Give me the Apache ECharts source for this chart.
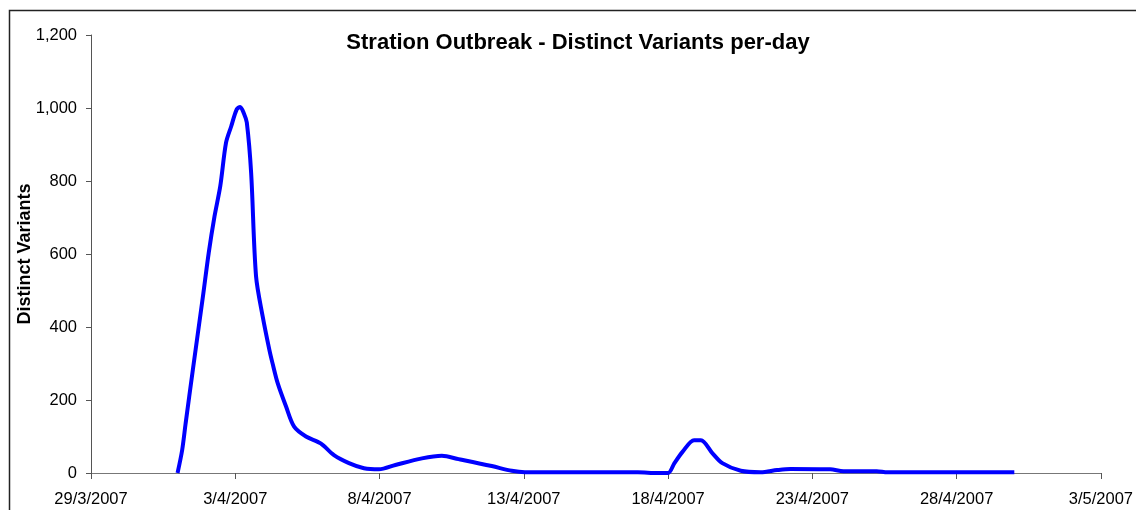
<!DOCTYPE html>
<html>
<head>
<meta charset="utf-8">
<script src="https://cdn.jsdelivr.net/npm/echarts@6/dist/echarts.min.js"></script>
<style>
html,body{margin:0;padding:0;background:#fff;}
#chart{width:1136px;height:510px;}
</style>
</head>
<body>
<div id="chart"></div>
<script>
// Days elapsed since 29/3/2007 00:00
var dayOffsets = [3.0, 3.16, 3.28, 3.53, 3.88, 4.08, 4.28, 4.48, 4.68, 4.86, 5.05, 5.17, 5.3, 5.40, 5.55, 5.72, 5.95, 6.18, 6.29, 6.47, 6.76, 7.04, 7.45, 7.96, 8.42, 8.94, 9.46, 9.98, 10.55, 11.47, 12.16, 12.74, 13.89, 14.58, 15.04, 17.5, 18.95, 19.64, 20.0, 20.22, 20.5, 20.9, 21.14, 21.54, 21.88, 22.52, 23.21, 23.78, 24.24, 25.62, 26.08, 27.23, 27.6, 32.0];
var variants = [0, 63, 136, 283, 484, 603, 703, 786, 905, 950, 996, 1003, 985, 960, 822, 539, 429, 338, 301, 246, 182, 127, 100, 81, 49, 27, 13, 10, 22, 40, 47, 38, 19, 6, 2, 2, 2, 0, 0, 27, 58, 90, 90, 54, 27, 6, 2, 8, 11, 10, 5, 5, 2, 2];
var xTickLabels = ['29/3/2007', '3/4/2007', '8/4/2007', '13/4/2007', '18/4/2007', '23/4/2007', '28/4/2007', '3/5/2007'];
var titleText = 'Stration Outbreak - Distinct Variants per-day';
var yAxisTitle = 'Distinct Variants';

var seriesData = dayOffsets.map(function (d, i) { return [d, variants[i]]; });
var FONT = "'Liberation Sans', Arial, sans-serif";

var chart = echarts.init(document.getElementById('chart'), null, {renderer: 'canvas'});
chart.setOption({
  animation: false,
  backgroundColor: '#ffffff',
  title: {
    text: titleText,
    left: 578, top: 32,
    textAlign: 'center',
    padding: 0,
    textStyle: {fontFamily: FONT, fontSize: 22, fontWeight: 'bold', color: '#000'}
  },
  graphic: [{
    type: 'rect',
    shape: {x: 9.5, y: 10.5, width: 1200, height: 600},
    style: {fill: 'none', stroke: '#222', lineWidth: 1.5},
    silent: true
  }],
  grid: {left: 91, right: 31, top: 35, bottom: 37, containLabel: false},
  xAxis: {
    type: 'value',
    min: 0, max: 35, interval: 5,
    axisLine: {show: true, lineStyle: {color: '#777', width: 1}},
    axisTick: {show: true, length: 6, lineStyle: {color: '#555'}},
    splitLine: {show: false},
    axisLabel: {
      margin: 18,
      fontFamily: FONT, fontSize: 16.5, color: '#000',
      showMinLabel: true, showMaxLabel: true,
      formatter: function (v) { return xTickLabels[Math.round(v / 5)] || ''; }
    }
  },
  yAxis: {
    type: 'value',
    min: 0, max: 1200, interval: 200,
    name: yAxisTitle,
    nameLocation: 'middle',
    nameGap: 57,
    nameMoveOverlap: false,
    nameRotate: 90,
    nameTextStyle: {fontFamily: FONT, fontSize: 18, fontWeight: 'bold', color: '#000'},
    axisLine: {show: true, lineStyle: {color: '#555', width: 1}},
    axisTick: {show: true, length: 5, lineStyle: {color: '#555'}},
    splitLine: {show: false},
    axisLabel: {
      margin: 14,
      fontFamily: FONT, fontSize: 16.5, color: '#000',
      formatter: function (v) { return v.toLocaleString('en-US'); }
    }
  },
  series: [{
    type: 'line',
    data: seriesData,
    smooth: 0.3,
    showSymbol: false,
    symbol: 'none',
    lineStyle: {color: '#0000ff', width: 4},
    itemStyle: {color: '#0000ff'}
  }]
});
</script>
</body>
</html>
